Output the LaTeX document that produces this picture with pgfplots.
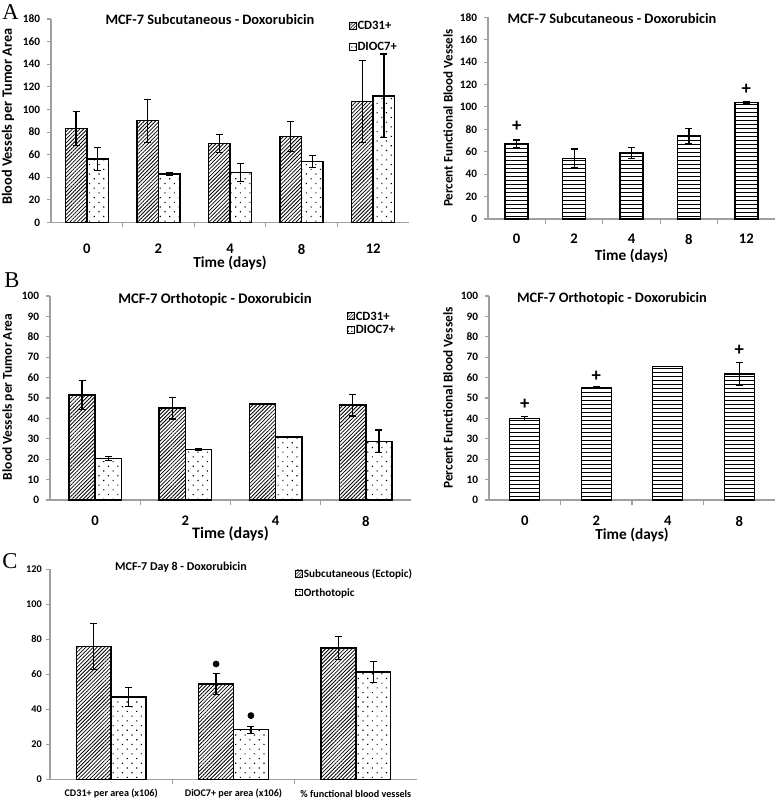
\documentclass[border=0pt]{standalone}
\usepackage{pgfplots}
\pgfplotsset{compat=1.18}
\usepackage{fontspec}
\setmainfont{Carlito}
\newfontfamily\seriffont{Liberation Serif}
\usetikzlibrary{patterns.meta}
\newcommand\fs[1]{\bfseries\fontsize{#1}{#1}\selectfont}
\pgfplotsset{
  base/.style={scale only axis, anchor=south west, clip=false,
    axis x line=bottom, axis y line=left,
    axis line style={-, draw=gray!75, line width=0.8pt},
    tick style={draw=gray!75, line width=0.8pt},
    tick align=outside, major tick length=3pt, minor tick length=3.5pt,
    ymin=0, /pgf/number format/assume math mode=true,
    yticklabel style={font=\fs{8.5}, inner sep=0pt, anchor=east},
    xticklabel style={font=\fs{11}, anchor=center, inner sep=0pt},
    major x tick style={draw=none},
    minor x tick style={draw=gray!75, line width=0.8pt},
    legend style={draw=none, fill=none, inner sep=0pt, legend cell align=left,
      nodes={inner sep=0.6pt, text height=6.5pt, text depth=1.5pt}},
  },
  errs/.style={error bars/y dir=both, error bars/y explicit,
    error bars/error bar style={line width=0.9pt, black},
    error bars/error mark options={rotate=90, mark size=2.6pt, line width=0.9pt, black}},
  cdbar/.style={ybar, bar shift=0pt, forget plot, draw=black, line width=1.1pt,
    pattern={Lines[angle=45,distance=2pt,line width=0.6pt]}, errs},
  dibar/.style={ybar, bar shift=0pt, forget plot, draw=black, line width=1.1pt,
    pattern={Dots[angle=45,distance=5pt,radius=0.6pt]}, errs},
  hlbar/.style={ybar, bar shift=0pt, forget plot, draw=black, line width=1.1pt,
    pattern={Lines[angle=0,distance=3pt,line width=0.75pt]}, errs},
}
\begin{document}
\begin{tikzpicture}
\useasboundingbox (0,0) rectangle (583.5pt,-600.75pt);
\node[font=\seriffont\fontsize{17}{17}\selectfont, anchor=north west, inner sep=0pt] at (1.5pt,-3pt) {A};
\node[font=\seriffont\fontsize{17}{17}\selectfont, anchor=north west, inner sep=0pt] at (3pt,-204pt) {B};
\node[font=\seriffont\fontsize{17}{17}\selectfont, anchor=north west, inner sep=0pt] at (1.5pt,-415pt) {C};

% ---------------- A left
\begin{axis}[base, at={(38.25pt,-166.875pt)}, width=268.5pt, height=152.625pt,
  xmin=-0.5, xmax=4.5, ymax=180, ytick={0,20,...,180},
  xtick={0,...,4}, xticklabels={0,2,4,8,12}, minor xtick={0.5,1.5,2.5,3.5},
  xticklabel style={yshift=-16.9pt}, yticklabel style={xshift=-5pt},
  title={MCF-7 Subcutaneous - Doxorubicin},
  title style={at={(axis description cs:0.444,0.96)}, anchor=center, font=\fs{10.8}},
  xlabel={Time (days)}, xlabel style={at={(axis description cs:0.5,-0.199)}, anchor=center, font=\fs{11.5}},
  ylabel={Blood Vessels per Tumor Area}, ylabel style={at={(axis description cs:-0.12,0.52)}, anchor=center, font=\fs{10.7}},
  legend style={at={(axis description cs:0.832,0.994)}, anchor=north west, row sep=6.5pt, font=\fs{9.5}}]
\addplot[cdbar, bar width=0.3] coordinates {
  (-0.15,83) +- (0,15) (0.85,90) +- (0,19) (1.85,70) +- (0,8) (2.85,76) +- (0,13) (3.85,107) +- (0,36)};
\addplot[dibar, bar width=0.3] coordinates {
  (0.15,56) +- (0,10) (1.15,43) +- (0,1.5) (2.15,44) +- (0,8) (3.15,54) +- (0,5.5) (4.15,112) +- (0,37)};
\addlegendimage{legend image code/.code={\draw[black, line width=0.5pt, pattern={Lines[angle=45,distance=1.6pt,line width=0.4pt]}] (0pt,-2.3pt) rectangle (5.2pt,2.9pt);}}
\addlegendentry{CD31+}
\addlegendimage{legend image code/.code={\draw[black, line width=0.5pt, pattern={Dots[distance=2.6pt,radius=0.5pt,xshift=1.3pt,yshift=1.3pt]}] (0pt,-2.3pt) rectangle (5.2pt,2.9pt);}}
\addlegendentry{DIOC7+}
\end{axis}

% ---------------- A right
\begin{axis}[base, at={(366pt,-164.25pt)}, width=215.25pt, height=151.3pt,
  xmin=-0.5, xmax=4.5, ymax=180, ytick={0,20,...,180},
  xtick={0,...,4}, xticklabels={0,2,4,8,12}, minor xtick={0.5,1.5,2.5,3.5},
  xticklabel style={yshift=-12pt}, yticklabel style={xshift=-5pt},
  title={MCF-7 Subcutaneous - Doxorubicin},
  title style={at={(axis description cs:0.432,0.952)}, anchor=center, font=\fs{10.8}},
  xlabel={Time (days)}, xlabel style={at={(axis description cs:0.5,-0.183)}, anchor=center, font=\fs{11.5}},
  ylabel={Percent Functional Blood Vessels}, ylabel style={at={(axis description cs:-0.139,0.5)}, anchor=center, font=\fs{9.8}}]
\addplot[hlbar, bar width=0.4] coordinates {
  (0,67) +- (0,3.5) (1,54) +- (0,8.5) (2,59) +- (0,5) (3,74) +- (0,6.5) (4,104) +- (0,1)};
\node[font=\fs{14}] at (axis cs:0,83) {+};
\node[font=\fs{14}] at (axis cs:4,116) {+};
\end{axis}

% ---------------- B left
\begin{axis}[base, at={(37.5pt,-375pt)}, width=270.75pt, height=153pt,
  xmin=-0.5, xmax=3.5, ymax=100, ytick={0,10,...,100},
  xtick={0,...,3}, xticklabels={0,2,4,8}, minor xtick={0.5,1.5,2.5},
  xticklabel style={yshift=-12.75pt}, yticklabel style={xshift=-5pt},
  title={MCF-7 Orthotopic - Doxorubicin},
  title style={at={(axis description cs:0.457,0.946)}, anchor=center, font=\fs{11}},
  xlabel={Time (days)}, xlabel style={at={(axis description cs:0.5,-0.165)}, anchor=center, font=\fs{12}},
  ylabel={Blood Vessels per Tumor Area}, ylabel style={at={(axis description cs:-0.116,0.505)}, anchor=center, font=\fs{10.1}},
  legend style={at={(axis description cs:0.823,0.93)}, anchor=north west, row sep=1pt, font=\fs{9.5}}]
\addplot[cdbar, bar width=0.29] coordinates {
  (-0.145,51.5) +- (0,7) (0.855,45) +- (0,5.3) (1.855,47) +- (0,0) (2.855,46.5) +- (0,5.3)};
\addplot[dibar, bar width=0.29] coordinates {
  (0.145,20.4) +- (0,1) (1.145,24.8) +- (0,0.5) (2.145,31) +- (0,0) (3.145,28.8) +- (0,5.5)};
\addlegendimage{legend image code/.code={\draw[black, line width=0.5pt, pattern={Lines[angle=45,distance=1.6pt,line width=0.4pt]}] (0pt,-2.3pt) rectangle (5.2pt,2.9pt);}}
\addlegendentry{CD31+}
\addlegendimage{legend image code/.code={\draw[black, line width=0.5pt, pattern={Dots[distance=2.6pt,radius=0.5pt,xshift=1.3pt,yshift=1.3pt]}] (0pt,-2.3pt) rectangle (5.2pt,2.9pt);}}
\addlegendentry{DIOC7+}
\end{axis}

% ---------------- B right
\begin{axis}[base, at={(366.75pt,-375pt)}, width=214.5pt, height=153pt,
  xmin=-0.5, xmax=3.5, ymax=100, ytick={0,10,...,100},
  xtick={0,...,3}, xticklabels={0,2,4,8}, minor xtick={0.5,1.5,2.5},
  xticklabel style={yshift=-12.75pt}, yticklabel style={xshift=-5pt},
  title={MCF-7 Orthotopic - Doxorubicin},
  title style={at={(axis description cs:0.43,0.946)}, anchor=center, font=\fs{10.8}},
  xlabel={Time (days)}, xlabel style={at={(axis description cs:0.5,-0.172)}, anchor=center, font=\fs{11.5}},
  ylabel={Percent Functional Blood Vessels}, ylabel style={at={(axis description cs:-0.143,0.5)}, anchor=center, font=\fs{10}}]
\addplot[hlbar, bar width=0.42] coordinates {
  (0,40) +- (0,1) (1,55) +- (0,0.5) (2,65.5) +- (0,0) (3,61.8) +- (0,5.7)};
\node[font=\fs{14}] at (axis cs:0,47) {+};
\node[font=\fs{14}] at (axis cs:1,60.5) {+};
\node[font=\fs{14}] at (axis cs:3,73.2) {+};
\end{axis}

% ---------------- C
\begin{axis}[base, at={(37.5pt,-584.6pt)}, width=275.25pt, height=157.5pt,
  xmin=-0.5, xmax=2.5, ymax=120, ytick={0,20,...,120},
  xtick={0,...,2}, xticklabels={CD31+ per area (x106), DiOC7+ per area (x106), \% functional blood vessels},
  minor xtick={0.5,1.5},
  xticklabel style={yshift=-7.9pt, font=\fs{7.6}}, yticklabel style={xshift=-3pt, font=\fs{7.7}},
  title={MCF-7 Day 8 - Doxorubicin},
  title style={at={(axis description cs:0.357,0.974)}, anchor=center, font=\fs{9}},
  legend style={at={(axis description cs:0.668,1.01)}, anchor=north west, row sep=5pt, font=\fs{8.4}}]
\addplot[cdbar, bar width=0.285] coordinates {
  (-0.1425,76) +- (0,13) (0.8575,54.5) +- (0,6) (1.8575,75) +- (0,6.5)};
\addplot[dibar, bar width=0.285] coordinates {
  (0.1425,47) +- (0,5.5) (1.1425,28.5) +- (0,2) (2.1425,61.5) +- (0,6)};
\addplot[only marks, mark=*, mark size=2.3pt, black, forget plot] coordinates {(0.8575,66) (1.1425,36.5)};
\addlegendimage{legend image code/.code={\draw[black, line width=0.5pt, pattern={Lines[angle=45,distance=1.6pt,line width=0.4pt]}] (0pt,-2.3pt) rectangle (5.2pt,2.9pt);}}
\addlegendentry{Subcutaneous (Ectopic)}
\addlegendimage{legend image code/.code={\draw[black, line width=0.5pt, pattern={Dots[distance=2.6pt,radius=0.5pt,xshift=1.3pt,yshift=1.3pt]}] (0pt,-2.3pt) rectangle (5.2pt,2.9pt);}}
\addlegendentry{Orthotopic}
\end{axis}
\end{tikzpicture}
\end{document}
